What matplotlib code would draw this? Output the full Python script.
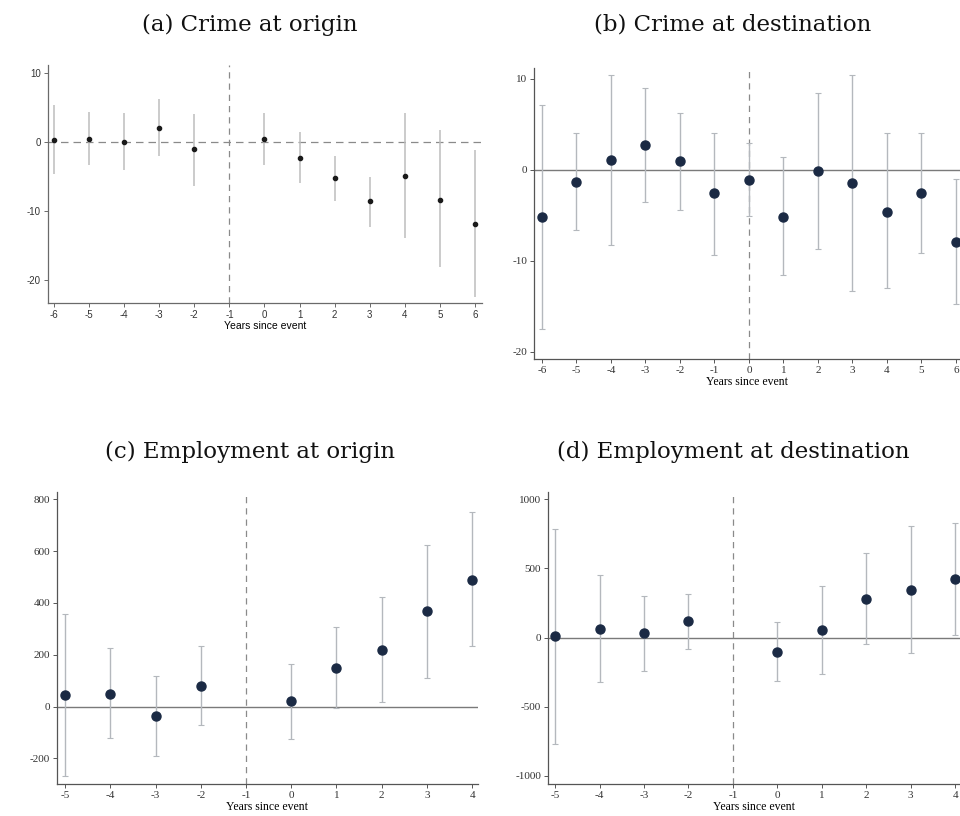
import matplotlib
matplotlib.use("Agg")
import matplotlib.pyplot as plt
import numpy as np

plt.rcParams['axes.unicode_minus'] = False

# (a) crime at origin
a_years = [-6, -5, -4, -3, -2, 0, 1, 2, 3, 4, 5, 6]
a_coef = [0.3, 0.4, 0.0, 2.0, -1.1, 0.4, -2.4, -5.2, -8.5, -4.9, -8.4, -11.9]
a_hi = [5.3, 4.3, 4.1, 6.2, 4.0, 4.1, 1.4, -2.1, -5.1, 4.1, 1.7, -1.2]
a_lo = [-4.6, -3.3, -4.1, -2.0, -6.4, -3.3, -5.9, -8.5, -12.3, -13.9, -18.1, -22.5]

# (b) crime at destination
b_years = [-6, -5, -4, -3, -2, -1, 0, 1, 2, 3, 4, 5, 6]
b_coef = [-5.2, -1.3, 1.1, 2.7, 1.0, -2.6, -1.1, -5.2, -0.1, -1.4, -4.6, -2.6, -7.9]
b_hi = [7.1, 4.0, 10.4, 9.0, 6.3, 4.0, 2.9, 1.4, 8.5, 10.4, 4.0, 4.0, -1.0]
b_lo = [-17.5, -6.6, -8.3, -3.5, -4.4, -9.4, -5.1, -11.6, -8.7, -13.3, -13.0, -9.1, -14.8]

# (c) employment at origin
c_years = [-5, -4, -3, -2, 0, 1, 2, 3, 4]
c_coef = [44, 50, -36, 81, 21, 150, 220, 368, 490]
c_hi = [358, 224, 118, 234, 166, 306, 423, 624, 749]
c_lo = [-268, -120, -190, -73, -125, -4, 17, 112, 232]

# (d) employment at destination
d_years = [-5, -4, -3, -2, 0, 1, 2, 3, 4]
d_coef = [10, 63, 34, 118, -101, 56, 280, 343, 427]
d_hi = [787, 452, 304, 312, 111, 372, 613, 804, 831]
d_lo = [-768, -321, -244, -82, -312, -263, -46, -114, 19]

titles = ['(a) Crime at origin', '(b) Crime at destination',
          '(c) Employment at origin', '(d) Employment at destination']

fig = plt.figure(figsize=(9.6, 8.16), dpi=100)
fig.patch.set_facecolor('white')

W, H = 960.0, 816.0


def box(l, t, r, b):
    return [l / W, 1 - b / H, (r - l) / W, (b - t) / H]


def panel(rect, years, coef, lo, hi, xlim, ylim, yticks, xticks, vline,
          sans=False):
    ax = fig.add_axes(rect)
    years = np.array(years)
    coef = np.array(coef, dtype=float)
    err = [coef - np.array(lo), np.array(hi) - coef]
    if sans:
        ax.axhline(0, color='#8a8a8a', lw=0.9, ls=(0, (6, 4)), zorder=1)
        ax.errorbar(years, coef, yerr=err, fmt='o', ms=3, color='#1a1a1a',
                    ecolor='#bdbdbd', elinewidth=1.1, capsize=0, zorder=3)
        font = 'Liberation Sans'
        spine = '#6a6a6a'
        tsize, lsize = 7, 7.5
    else:
        ax.axhline(0, color='#7a7a7a', lw=1.0, zorder=1)
        ax.errorbar(years, coef, yerr=err, fmt='o', ms=6.5, color='#1b2a44',
                    ecolor='#b4b8bd', elinewidth=1.0, capsize=2.5,
                    capthick=0.8, zorder=3)
        font = 'Liberation Serif'
        spine = '#555555'
        tsize, lsize = 8, 8.5
    ax.axvline(vline, color='#8a8a8a', lw=0.9, ls=(0, (5, 4)), zorder=1)
    ax.set_xlim(xlim)
    ax.set_ylim(ylim)
    ax.set_xticks(xticks)
    ax.set_xticklabels([str(v) for v in xticks], family=font, fontsize=tsize)
    ax.set_yticks(yticks)
    ax.set_yticklabels([str(v) for v in yticks], family=font, fontsize=tsize)
    ax.set_xlabel('Years since event', family=font, fontsize=lsize, labelpad=1)
    for s in ['top', 'right']:
        ax.spines[s].set_visible(False)
    for s in ['left', 'bottom']:
        ax.spines[s].set_color(spine)
        ax.spines[s].set_linewidth(0.9)
    ax.tick_params(length=3, width=0.7, color=spine, pad=2, labelcolor='#333333')
    return ax


panel(box(48, 65, 482, 303), a_years, a_coef, a_lo, a_hi,
      (-6.17, 6.2), (-23.3, 11.1), [10, 0, -10, -20], list(range(-6, 7)), -1,
      sans=True)
panel(box(534, 68, 960, 359), b_years, b_coef, b_lo, b_hi,
      (-6.23, 6.12), (-20.8, 11.2), [10, 0, -10, -20], list(range(-6, 7)), 0)
panel(box(57, 492, 478, 784), c_years, c_coef, c_lo, c_hi,
      (-5.18, 4.13), (-299, 828), [800, 600, 400, 200, 0, -200],
      list(range(-5, 5)), -1)
panel(box(548, 492, 960, 784), d_years, d_coef, d_lo, d_hi,
      (-5.16, 4.11), (-1058, 1053), [1000, 500, 0, -500, -1000],
      list(range(-5, 5)), -1)

title_pos = [(250, 25), (733, 25), (250, 452), (733, 452)]
for (x, y), t in zip(title_pos, titles):
    fig.text(x / W, 1 - y / H, t, ha='center', va='center',
             family='DejaVu Serif', fontsize=16.5, color='#111111')

fig.savefig('out.png', dpi=100, facecolor='white')
